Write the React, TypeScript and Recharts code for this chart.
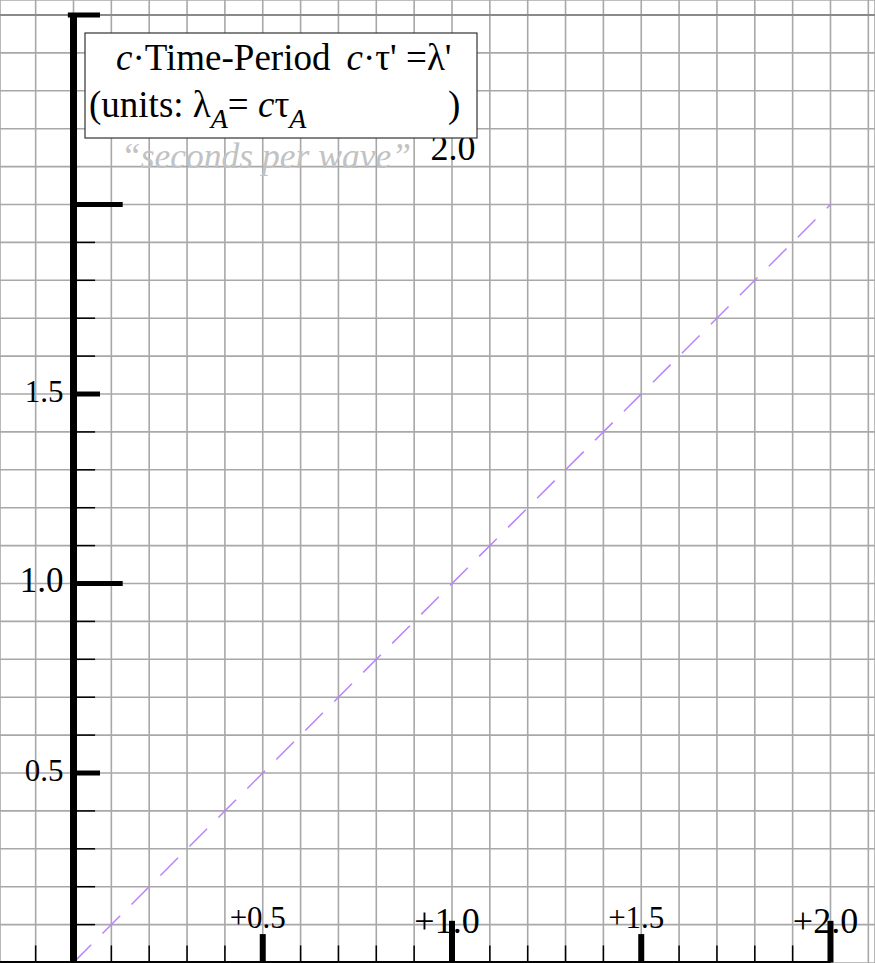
import { LineChart, Line, XAxis, YAxis, CartesianGrid, ReferenceLine } from 'recharts';

// grid every 0.1 unit
const xGrid = [-0.1, 0, 0.1, 0.2, 0.3, 0.4, 0.5, 0.6, 0.7, 0.8, 0.9, 1.0, 1.1, 1.2, 1.3, 1.4, 1.5, 1.6, 1.7, 1.8, 1.9, 2.0, 2.1];
const yGrid = [0, 0.1, 0.2, 0.3, 0.4, 0.5, 0.6, 0.7, 0.8, 0.9, 1.0, 1.1, 1.2, 1.3, 1.4, 1.5, 1.6, 1.7, 1.8, 1.9, 2.0, 2.1, 2.2, 2.3, 2.4, 2.5];

const xMinorTicks = [-0.1, 0.1, 0.2, 0.3, 0.4, 0.6, 0.7, 0.8, 0.9, 1.1, 1.2, 1.3, 1.4, 1.6, 1.7, 1.8, 1.9];
const yMinorTicks = [0.1, 0.2, 0.3, 0.4, 0.6, 0.7, 0.8, 0.9, 1.1, 1.2, 1.3, 1.4, 1.6, 1.7, 1.8, 1.9];

const xMajorTicks = [0.5, 1.0, 1.5, 2.0];
const xMajorLabels = ['+0.5', '+1.0', '+1.5', '+2.0'];
const yMajorTicks = [0.5, 1.0, 1.5, 2.0];
const yMajorLabels = ['0.5', '1.0', '1.5', '2.0'];
const yAxisTop = 2.5;

// light: c·τ' = λ'
const lightLine = [
  { x: 0, y: 0 },
  { x: 2, y: 2 },
];

const W = 875;
const H = 963;
const X_DOMAIN: [number, number] = [-0.1942, 2.1176];
const Y_DOMAIN: [number, number] = [-0.0013, 2.5396];
const SERIF = '"Liberation Serif", "DejaVu Serif", serif';

const isWhole = (v: number) => Math.abs(v - Math.round(v)) < 1e-9;

function XTickLabel({ viewBox, text, whole }: any) {
  const bottom = viewBox.y + viewBox.height;
  return (
    <text
      x={viewBox.x - 5}
      y={bottom - (whole ? 30 : 35)}
      textAnchor="middle"
      fontFamily={SERIF}
      fontSize={whole ? 36 : 31}
      fill="#000"
    >
      {text}
    </text>
  );
}

function YTickLabel({ viewBox, text, value }: any) {
  if (value === 2) {
    // top label sits up beside the caption
    return (
      <text x={viewBox.x + 402} y={viewBox.y - 45} textAnchor="end" fontFamily={SERIF} fontSize={36} fill="#000">
        {text}
      </text>
    );
  }
  return (
    <text
      x={viewBox.x - 10}
      y={viewBox.y + 8}
      textAnchor="end"
      fontFamily={SERIF}
      fontSize={isWhole(value) ? 35 : 31}
      fill="#000"
    >
      {text}
    </text>
  );
}

export default function App() {
  return (
    <div style={{ position: 'absolute', left: 0, top: 0, width: W, height: H, background: '#fff' }}>
      <LineChart width={W} height={H} data={lightLine} margin={{ top: 0, right: 0, bottom: 0, left: 0 }}>
        <XAxis type="number" dataKey="x" domain={X_DOMAIN} ticks={xGrid} allowDataOverflow hide />
        <YAxis type="number" dataKey="y" domain={Y_DOMAIN} ticks={yGrid} allowDataOverflow hide />
        <CartesianGrid stroke="#a8a8a8" strokeWidth={1.6} />
        <ReferenceLine y={yAxisTop} stroke="#8a8a8a" strokeWidth={2.2} />

        <Line
          type="linear"
          dataKey="y"
          stroke="#b983ff"
          strokeWidth={1.5}
          strokeDasharray="25 16"
          dot={false}
          activeDot={false}
          isAnimationActive={false}
        />

        {/* x axis */}
        <ReferenceLine segment={[{ x: X_DOMAIN[0], y: 0 }, { x: 2, y: 0 }]} stroke="#000" strokeWidth={3} />
        {xMinorTicks.map((v) => (
          <ReferenceLine key={`xm${v}`} segment={[{ x: v, y: 0 }, { x: v, y: 0.045 }]} stroke="#000" strokeWidth={1.5} />
        ))}
        {xMajorTicks.map((v, i) => (
          <ReferenceLine
            key={`xM${v}`}
            segment={[{ x: v, y: 0 }, { x: v, y: isWhole(v) ? 0.11 : 0.075 }]}
            stroke="#000"
            strokeWidth={6}
            label={(p: any) => <XTickLabel viewBox={p.viewBox} text={xMajorLabels[i]} whole={isWhole(v)} />}
          />
        ))}

        {/* y axis */}
        <ReferenceLine segment={[{ x: 0, y: 0 }, { x: 0, y: yAxisTop }]} stroke="#000" strokeWidth={7} />
        <ReferenceLine segment={[{ x: -0.015, y: yAxisTop }, { x: 0.07, y: yAxisTop }]} stroke="#000" strokeWidth={5} />
        {yMinorTicks.map((v) => (
          <ReferenceLine key={`ym${v}`} segment={[{ x: 0, y: v }, { x: 0.057, y: v }]} stroke="#000" strokeWidth={1.5} />
        ))}
        {yMajorTicks.map((v, i) => (
          <ReferenceLine
            key={`yM${v}`}
            segment={[{ x: 0, y: v }, { x: isWhole(v) ? 0.13 : 0.07, y: v }]}
            stroke="#000"
            strokeWidth={5}
            label={(p: any) => <YTickLabel viewBox={p.viewBox} text={yMajorLabels[i]} value={v} />}
          />
        ))}
      </LineChart>

      {/* title box and units caption */}
      <svg width={W} height={H} style={{ position: 'absolute', left: 0, top: 0, pointerEvents: 'none' }}>
        <rect x={85} y={33} width={392} height={105} fill="#fff" stroke="#333" strokeWidth={1.2} />
        <text x={116} y={70} fontFamily={SERIF} fontSize={37} fill="#000">
          <tspan fontStyle="italic">c</tspan>
          <tspan>·Time-Period</tspan>
          <tspan dx={16} fontStyle="italic">c</tspan>
          <tspan>·τ' =λ'</tspan>
        </text>
        <text x={89} y={117} fontFamily={SERIF} fontSize={37} fill="#000">
          <tspan>(units: λ</tspan>
          <tspan fontStyle="italic" fontSize={28} dy={11}>A</tspan>
          <tspan dy={-11}>= </tspan>
          <tspan fontStyle="italic">c</tspan>
          <tspan>τ</tspan>
          <tspan fontStyle="italic" fontSize={28} dy={11}>A</tspan>
        </text>
        <text x={448} y={117} fontFamily={SERIF} fontSize={37} fill="#000">)</text>
        <text x={121} y={168} fontFamily={SERIF} fontSize={35.5} fontStyle="italic" fill="#c2c2c2">
          “seconds per wave”
        </text>
      </svg>
    </div>
  );
}
